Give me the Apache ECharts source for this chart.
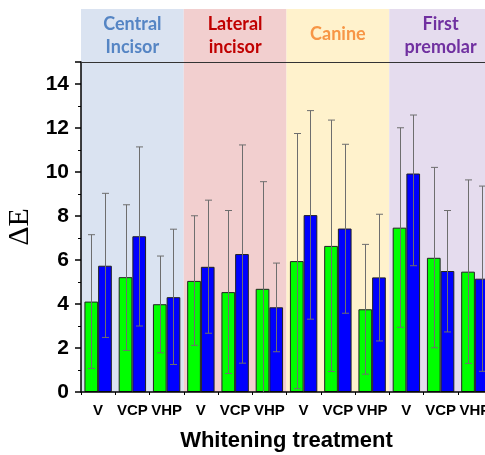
<!DOCTYPE html>
<html>
<head>
<meta charset="utf-8">
<title></title>
<script src="https://cdn.jsdelivr.net/npm/echarts@6/dist/echarts.min.js"></script>
<style>
html,body{margin:0;padding:0;background:#fff;}
#chart{width:485px;height:455px;}
</style>
</head>
<body>
<div id="chart"></div>
<script>
// x categories (3 treatments per tooth group)
var treatments = ['V','VCP','VHP','V','VCP','VHP','V','VCP','VHP','V','VCP','VHP'];
var groups = ['Central\nIncisor','Lateral\nincisor','Canine','First\npremolar'];

// green bars: mean, lower and upper end of error bar
var greenMean = [4.11, 5.22, 3.99, 5.05, 4.54, 4.69, 5.95, 6.64, 3.76, 7.47, 6.10, 5.47];
var greenLow  = [1.07, 1.89, 1.78, 2.12, 0.84, -0.2, 0.15, 0.93, 0.81, 2.94, 2.01, 1.30];
var greenHigh = [7.15, 8.51, 6.18, 8.01, 8.25, 9.56, 11.75, 12.36, 6.71, 12.01, 10.21, 9.64];

// blue bars
var blueMean = [5.74, 7.08, 4.31, 5.69, 6.27, 3.85, 8.04, 7.43, 5.21, 9.93, 5.50, 5.15];
var blueLow  = [2.48, 3.00, 1.25, 2.67, 1.31, 1.83, 3.31, 3.58, 2.32, 5.74, 2.73, 0.94];
var blueHigh = [9.03, 11.14, 7.40, 8.72, 11.23, 5.86, 12.79, 11.26, 8.08, 12.59, 8.25, 9.36];

var bandColors = ['#dae3f1','#f2cfcf','#fff2cc','#e5dcee'];
var groupTextColors = ['#5585c4','#c00000','#f79646','#7030a0'];
var labelDist = [4, 4, 14, 4];

var myChart = echarts.init(document.getElementById('chart'));

// error bars drawn with a custom series, shifted onto the left/right bar
function errBars(low, high, side){
	return {
		type: 'custom',
		xAxisIndex: 0,
		yAxisIndex: 0,
		z: 4,
		clip: true,
		silent: true,
		data: low.map(function(v, i){ return [i, v, high[i]]; }),
		encode: {x: 0, y: [1, 2]},
		renderItem: function(params, api){
			var i = api.value(0);
			var band = api.size([1, 0])[0];
			var off = side * band * 0.2;
			var top = api.coord([i, api.value(2)]);
			var bot = api.coord([i, api.value(1)]);
			var x = Math.round(top[0] + off) + 0.5;
			var cap = 3.5;
			var st = {stroke: '#6e6e6e', lineWidth: 1};
			return {
				type: 'group',
				children: [
					{type: 'line', shape: {x1: x, y1: top[1], x2: x, y2: bot[1]}, style: st},
					{type: 'line', shape: {x1: x - cap, y1: top[1], x2: x + cap, y2: top[1]}, style: st},
					{type: 'line', shape: {x1: x - cap, y1: bot[1], x2: x + cap, y2: bot[1]}, style: st}
				]
			};
		}
	};
}

myChart.setOption({
	animation: false,
	grid: [
		{left: 81, width: 411, top: 62, height: 330, outerBoundsMode: 'none'},   // main plot
		{left: 81, width: 411, top: 9, height: 383, outerBoundsMode: 'none'},    // coloured group bands
		{left: 81, width: 411, top: 62, height: 330, outerBoundsMode: 'none'}    // boundary ticks
	],
	xAxis: [
		{
			type: 'category', gridIndex: 0, data: treatments, position: 'bottom', z: 3,
			axisLine: {lineStyle: {color: '#000', width: 1.5}},
			axisTick: {alignWithLabel: true, length: 6, lineStyle: {color: '#000', width: 1.5}},
			axisLabel: {interval: 0, fontFamily: 'Liberation Sans', fontWeight: 'bold', fontSize: 15, color: '#000', margin: 11},
			name: 'Whitening treatment', nameLocation: 'middle', nameGap: 38,
			nameTextStyle: {fontFamily: 'Liberation Sans', fontWeight: 'bold', fontSize: 22, color: '#000'}
		},
		{
			type: 'category', gridIndex: 0, data: treatments, position: 'top', z: 3,
			axisLine: {show: true, lineStyle: {color: '#333', width: 1}},
			axisTick: {show: false}, axisLabel: {show: false}
		},
		{
			type: 'category', gridIndex: 2, data: treatments, position: 'bottom', z: 3,
			axisLine: {show: false},
			axisTick: {show: true, length: 3, lineStyle: {color: '#000', width: 1}},
			axisLabel: {show: false}
		},
		{type: 'category', gridIndex: 1, data: groups, show: false}
	],
	yAxis: [
		{
			type: 'value', gridIndex: 0, min: 0, max: 15, interval: 2, z: 3,
			name: 'ΔE', nameLocation: 'middle', nameGap: 45, nameRotate: 90,
			nameTextStyle: {fontFamily: 'Liberation Serif', fontSize: 30, color: '#000'},
			axisLine: {show: true, lineStyle: {color: '#000', width: 1.5}},
			axisTick: {show: true, length: 6, lineStyle: {color: '#000', width: 1.5}},
			minorTick: {show: true, splitNumber: 2, length: 3, lineStyle: {color: '#000', width: 1}},
			splitLine: {show: false},
			axisLabel: {showMaxLabel: false, fontFamily: 'Liberation Sans', fontWeight: 'bold', fontSize: 21, color: '#000', margin: 12}
		},
		{type: 'value', gridIndex: 1, min: 0, max: 1, show: false},
		{type: 'value', gridIndex: 2, min: 0, max: 1, show: false}
	],
	series: [
		{
			type: 'bar', xAxisIndex: 3, yAxisIndex: 1, barWidth: '100%', z: 0, silent: true,
			label: {show: true, position: 'insideTop', formatter: '{b}', fontFamily: 'Lato', fontWeight: 'bold', fontSize: 18, lineHeight: 23},
			data: groups.map(function(g, i){
				return {value: 1, itemStyle: {color: bandColors[i]}, label: {color: groupTextColors[i], distance: labelDist[i]}};
			})
		},
		{
			name: 'green', type: 'bar', xAxisIndex: 0, yAxisIndex: 0, z: 2,
			barCategoryGap: '20%', barGap: '0%',
			itemStyle: {color: '#00ff00', borderColor: '#222', borderWidth: 1},
			data: greenMean
		},
		{
			name: 'blue', type: 'bar', xAxisIndex: 0, yAxisIndex: 0, z: 2,
			barCategoryGap: '20%', barGap: '0%',
			itemStyle: {color: '#0000ff', borderColor: '#222', borderWidth: 1},
			data: blueMean
		},
		errBars(greenLow, greenHigh, -1),
		errBars(blueLow, blueHigh, 1)
	]
});
</script>
</body>
</html>
